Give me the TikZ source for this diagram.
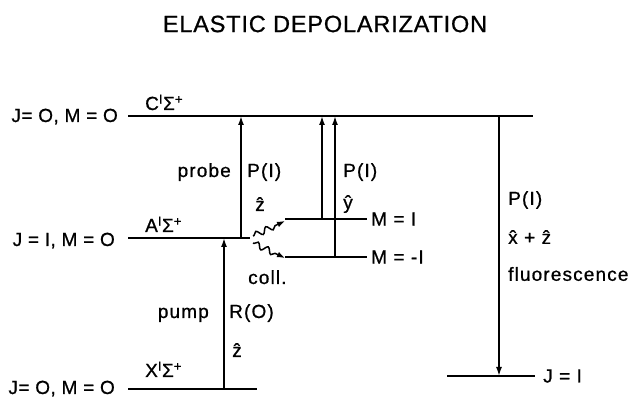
\documentclass[tikz,border=0pt]{standalone}
\usepackage{fontspec}
\setmainfont{Liberation Sans}[BoldFont=Liberation Sans,BoldFeatures={FakeBold=0.8}]
\usetikzlibrary{arrows.meta,decorations.pathmorphing}
\tikzset{
  lvl/.style={line width=1.6pt},
  arr/.style={line width=1.6pt,-{Latex[length=9pt,width=6pt]}},
  wavy/.style={line width=1.5pt,-{Latex[length=8pt,width=6pt]},decorate,
    decoration={snake,segment length=11pt,amplitude=3pt,pre length=1pt,post length=7pt}},
  lab/.style={inner sep=0pt,font=\fontsize{19}{22}\selectfont\bfseries\addfontfeature{LetterSpace=6}},
  jlab/.style={inner sep=0pt,font=\fontsize{19}{22}\selectfont\bfseries\addfontfeature{LetterSpace=2.5}},
  ttl/.style={inner sep=0pt,font=\fontsize{23.5}{27}\selectfont\bfseries\addfontfeature{LetterSpace=3.5}}
}
\begin{document}
\begin{tikzpicture}[x=1pt,y=-1pt]
\useasboundingbox (0,0) rectangle (633,398);
% title
\node[ttl] (title) at (325,24) {ELASTIC DEPOLARIZATION};
% levels
\coordinate (Cl) at (128,116); \coordinate (Cr) at (533,116);
\coordinate (Al) at (128,238); \coordinate (Ar) at (250,238);
\coordinate (Xl) at (128,389); \coordinate (Xr) at (257,389);
\coordinate (Pl) at (285,219); \coordinate (Pr) at (367,219);
\coordinate (Ml) at (285,257); \coordinate (Mr) at (367,257);
\coordinate (Jl) at (447,376); \coordinate (Jr) at (535,376);
\draw[lvl] (Cl) -- (Cr);
\draw[lvl] (Al) -- (Ar);
\draw[lvl] (Xl) -- (Xr);
\draw[lvl] (Pl) -- (Pr);
\draw[lvl] (Ml) -- (Mr);
\draw[lvl] (Jl) -- (Jr);
% level labels
\node[jlab,anchor=base east] (lC) at (118,122) {J= O, M = O};
\node[jlab,anchor=base east] (lA) at (115,246) {J = I, M = O};
\node[jlab,anchor=base east] (lX) at (115,394) {J= O, M = O};
\node[lab,anchor=base west] (sC) at (145,110) {C\textsuperscript{I}Σ\textsuperscript{+}};
\node[lab,anchor=base west] (sA) at (145,232) {A\textsuperscript{I}Σ\textsuperscript{+}};
\node[lab,anchor=base west] (sX) at (145,377) {X\textsuperscript{I}Σ\textsuperscript{+}};
\node[lab,anchor=west] (lP) at (371,219) {M = I};
\node[lab,anchor=west] (lM) at (371,257) {M = -I};
\node[lab,anchor=west] (lJ) at (543,376) {J = I};
% pump
\coordinate (pu0) at (224,389); \coordinate (pu1) at (224,238);
\draw[arr] (pu0) -- (pu1);
\node[lab,anchor=base east] (pump) at (209,318) {pump};
\node[lab,anchor=base west] (R0) at (229,318) {R(O)};
\node[lab,anchor=base] (z1) at (237,357) {\^{z}};
% probe
\coordinate (pr0) at (241,238); \coordinate (pr1) at (241,116);
\draw[arr] (pr0) -- (pr1);
\node[lab,anchor=base east] (probe) at (231,177) {probe};
\node[lab,anchor=base west] (P1a) at (247,177) {P(I)};
\node[lab,anchor=base] (z2) at (260,211) {\^{z}};
% double arrows
\coordinate (d10) at (322,219); \coordinate (d11) at (322,116);
\coordinate (d20) at (335,257); \coordinate (d21) at (335,116);
\draw[arr] (d10) -- (d11);
\draw[arr] (d20) -- (d21);
\node[lab,anchor=base west] (P1b) at (343,177) {P(I)};
\node[lab,anchor=base] (y1) at (348,209) {\^{y}};
% collisions
\coordinate (w0) at (253,236); \coordinate (w1) at (285,221);
\coordinate (v0) at (253,243); \coordinate (v1) at (285,258);
\draw[wavy] (w0) -- (w1);
\draw[wavy] (v0) -- (v1);
\node[lab,anchor=base west] (coll) at (248,284) {coll.};
% fluorescence
\coordinate (f0) at (499,116); \coordinate (f1) at (499,376);
\draw[arr] (f0) -- (f1);
\node[lab,anchor=west] (P1c) at (508,200) {P(I)};
\node[lab,anchor=west] (xz) at (508,237) {\^{x} + \^{z}};
\node[lab,anchor=west] (fl) at (508,274) {fluorescence};
\end{tikzpicture}
\end{document}
